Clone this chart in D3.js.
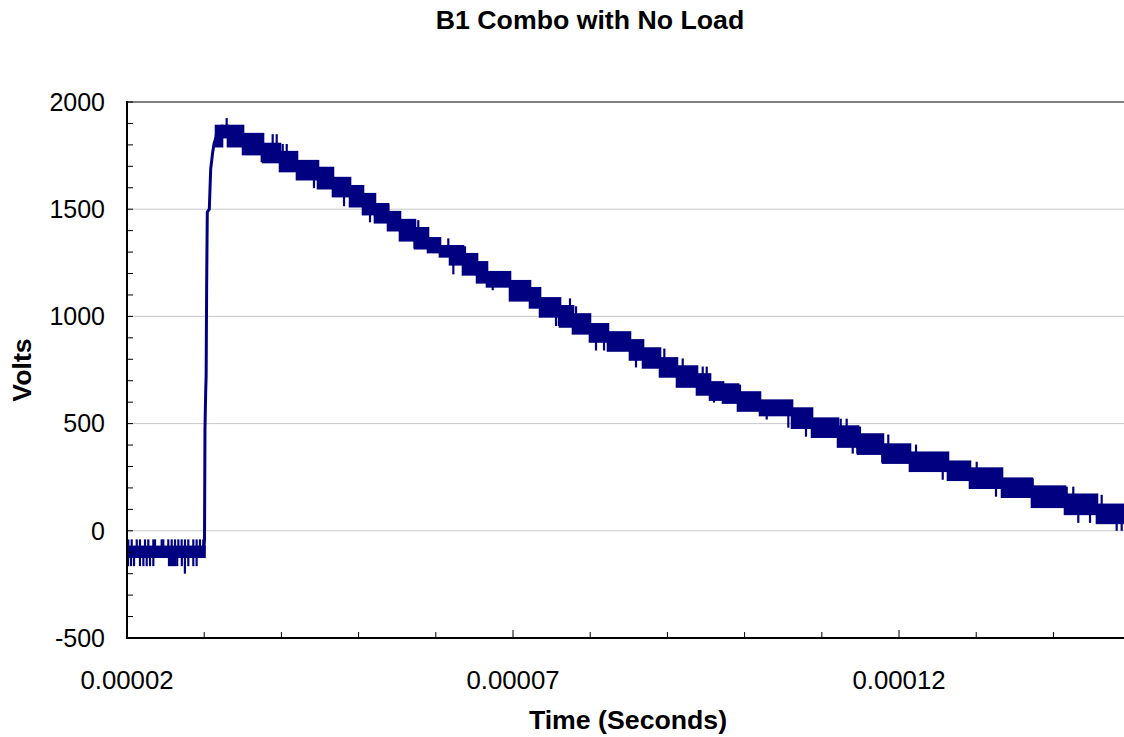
<!DOCTYPE html>
<html>
<head>
<meta charset="utf-8">
<script src="https://cdn.jsdelivr.net/npm/d3@7"></script>
<style>
  html, body { margin: 0; padding: 0; background: #fff; }
  svg { display: block; font-family: "Liberation Sans", Arial, sans-serif; }
</style>
</head>
<body>
<svg id="chart" width="1124" height="737"></svg>
<script>
// ---- Data (time in microseconds, voltage in volts) ----
const titleText = "B1 Combo with No Load";
const xLabel = "Time (Seconds)";
const yLabel = "Volts";

const xMajorTicks = [20, 70, 120];          // µs  -> 0.00002, 0.00007, 0.00012
const xTickLabels = ["0.00002", "0.00007", "0.00012"];
const yMajorTicks = [-500, 0, 500, 1000, 1500, 2000];

// Quantised noise band: start/end time and low/high envelope of each step
const stepStart = [20, 31.53, 32.31, 33.08, 35.03, 37.62, 39.82, 42.02, 44.74, 46.68,
  48.89, 50.57, 52.12, 53.81, 55.36, 57.30, 58.99, 60.54, 61.84, 63.52,
  65.34, 66.63, 69.61, 72.20, 73.50, 76.09, 77.77, 79.97, 82.30, 85.15,
  86.84, 89.04, 91.24, 93.83, 95.52, 97.20, 99.14, 101.99, 106.14, 108.73,
  112.10, 114.69, 117.92, 121.42, 126.34, 129.19, 133.34, 137.22, 141.50, 145.64];
const stepEnd = [30.04, 32.31, 33.08, 35.03, 37.62, 39.82, 42.02, 44.74, 46.68, 48.89,
  50.57, 52.12, 53.81, 55.36, 57.30, 58.99, 60.54, 61.84, 63.52, 65.34,
  66.63, 69.61, 72.20, 73.50, 76.09, 77.77, 79.97, 82.30, 85.15, 86.84,
  89.04, 91.24, 93.83, 95.52, 97.20, 99.14, 101.99, 106.14, 108.73, 112.10,
  114.69, 117.92, 121.42, 126.34, 129.19, 133.34, 137.22, 141.50, 145.64, 149.14];
const stepLow = [-121, 1794, 1836, 1794, 1757, 1720, 1678, 1640, 1598, 1561,
  1514, 1477, 1439, 1402, 1355, 1318, 1300, 1280, 1243, 1196,
  1159, 1140, 1075, 1042, 1000, 953, 921, 883, 841, 799,
  762, 720, 673, 636, 612, 598, 561, 540, 481, 439,
  393, 360, 318, 280, 238, 201, 159, 112, 79, 37];
const stepHigh = [-75, 1888, 1888, 1888, 1850, 1804, 1766, 1724, 1692, 1645,
  1607, 1570, 1523, 1486, 1449, 1411, 1364, 1327, 1327, 1290,
  1252, 1206, 1164, 1131, 1084, 1047, 1009, 963, 925, 888,
  850, 804, 766, 729, 692, 682, 645, 607, 570, 523,
  486, 449, 402, 364, 322, 290, 243, 206, 168, 121];

// Rising edge of the pulse
const riseTime  = [29.91, 30.04, 30.10, 30.19, 30.25, 30.32, 30.40, 30.66, 30.84, 31.10, 31.27, 31.53, 31.70];
const riseVolts = [-103, -42, 472, 645, 720, 1159, 1486, 1500, 1687, 1766, 1804, 1836, 1883];

// Individual noise spikes leaving the band
const spikeTime = [
  20.17, 20.61, 21.26, 21.68, 22.33, 22.76, 23.41, 23.63, 24.49, 24.70, 25.35, 25.79, 26.22, 26.65,
  27.08, 27.51, 27.94, 28.59, 29.02, 29.45, 29.88,
  20.13, 20.52, 20.91, 21.68, 22.12, 22.55, 22.98, 23.41, 25.44, 25.70, 25.96, 26.22, 26.50, 27.10,
  27.50, 27.94, 28.59, 29.02,
  32.91, 37.45, 38.87, 39.39, 40.17, 40.69, 44.22, 48.11, 51.48, 53.85, 57.25, 57.73, 61.62, 62.27,
  63.78, 67.37, 75.57, 75.95, 77.38, 78.16, 80.75, 81.79, 85.93, 89.60, 91.98, 94.57, 95.09, 96.03,
  99.40, 102.86, 105.66, 107.95, 112.45, 113.22, 114.00, 114.60, 114.94, 117.83, 118.61, 122.20,
  125.66, 130.06, 132.56, 137.31, 141.72, 142.57, 143.22, 144.74, 146.25, 148.19, 148.84];
const spikeVolts = [
  -40, -40, -40, -40, -40, -40, -40, -40, -40, -40, -40, -40, -40, -40,
  -40, -40, -40, -40, -40, -40, -40,
  -165, -165, -165, -165, -165, -165, -165, -165, -165, -165, -165, -165, -165, -165,
  -200, -165, -165, -165,
  1925, 1720, 1850, 1850, 1804, 1804, 1598, 1514, 1439, 1523, 1318, 1449, 1364, 1196,
  1327, 1122, 955, 955, 1084, 1047, 841, 841, 762, 850, 804, 766, 766, 598,
  682, 519, 481, 439, 523, 523, 360, 360, 486, 318, 449, 402,
  238, 322, 159, 243, 206, 206, 37, 37, 168, 0, 0];

// ---- Layout ----
const W = 1124, H = 737;
const L = 127, R = 1124, T = 102, B = 638;
const navy = "#000080";

const svg = d3.select("#chart");
const x = d3.scaleLinear().domain([20, 149.14]).range([L, R]);
const y = d3.scaleLinear().domain([-500, 2000]).range([B, T]);

// gridlines
svg.append("g").selectAll("line")
  .data(yMajorTicks.filter(d => d > -500 && d < 2000))
  .join("line")
  .attr("x1", L).attr("x2", R)
  .attr("y1", d => y(d)).attr("y2", d => y(d))
  .attr("stroke", "#c8c8c8").attr("stroke-width", 1);

// top border
svg.append("line").attr("x1", L).attr("x2", R).attr("y1", y(2000)).attr("y2", y(2000))
  .attr("stroke", "#808080").attr("stroke-width", 2);

// plot content, clipped
svg.append("clipPath").attr("id", "clip").append("rect")
  .attr("x", L + 1).attr("y", T - 10).attr("width", R - L).attr("height", B - T + 9);
const plot = svg.append("g").attr("clip-path", "url(#clip)");

const steps = stepStart.map((s, i) => ({ s, e: stepEnd[i], lo: stepLow[i], hi: stepHigh[i] }));
plot.append("g").selectAll("rect").data(steps).join("rect")
  .attr("x", d => x(d.s))
  .attr("width", d => x(d.e) - x(d.s))
  .attr("y", d => y(d.hi))
  .attr("height", d => y(d.lo) - y(d.hi))
  .attr("fill", navy)
  .attr("stroke", navy).attr("stroke-width", 2.6).attr("stroke-linejoin", "miter");

function bandMid(t) {
  let i = d3.bisectRight(stepStart, t) - 1;
  if (i < 0) i = 0;
  return (stepLow[i] + stepHigh[i]) / 2;
}
const spikes = spikeTime.map((t, i) => ({ t, v: spikeVolts[i], m: bandMid(t) }));
plot.append("g").selectAll("line").data(spikes).join("line")
  .attr("x1", d => x(d.t)).attr("x2", d => x(d.t))
  .attr("y1", d => y(d.m)).attr("y2", d => y(d.v))
  .attr("stroke", navy).attr("stroke-width", 2.2);

const rise = riseTime.map((t, i) => [t, riseVolts[i]]);
plot.append("path").datum(rise)
  .attr("d", d3.line().x(d => x(d[0])).y(d => y(d[1])))
  .attr("fill", "none").attr("stroke", navy).attr("stroke-width", 3)
  .attr("stroke-linejoin", "round");

// axes lines
svg.append("line").attr("x1", L).attr("x2", L).attr("y1", T - 1).attr("y2", B + 1)
  .attr("stroke", "#000").attr("stroke-width", 2);
svg.append("line").attr("x1", L - 1).attr("x2", R).attr("y1", B).attr("y2", B)
  .attr("stroke", "#000").attr("stroke-width", 2);

// y ticks (every 100, inward)
svg.append("g").selectAll("line").data(d3.range(-500, 2001, 100)).join("line")
  .attr("x1", L).attr("x2", L + 6)
  .attr("y1", d => y(d)).attr("y2", d => y(d))
  .attr("stroke", "#000").attr("stroke-width", 1);

// x ticks (every 10 µs, inward)
svg.append("g").selectAll("line").data(d3.range(20, 149.1, 10)).join("line")
  .attr("x1", d => x(d)).attr("x2", d => x(d))
  .attr("y1", B).attr("y2", d => xMajorTicks.includes(d) ? B - 8 : B - 6)
  .attr("stroke", "#000").attr("stroke-width", 1);

// y tick labels
svg.append("g").selectAll("text").data(yMajorTicks).join("text")
  .attr("x", 105).attr("y", d => y(d) + 8.8)
  .attr("text-anchor", "end")
  .attr("font-size", 25).attr("fill", "#000")
  .text(d => d);

// x tick labels
svg.append("g").selectAll("text").data(xMajorTicks).join("text")
  .attr("x", d => x(d)).attr("y", 689)
  .attr("text-anchor", "middle")
  .attr("font-size", 25.8).attr("fill", "#000")
  .text((d, i) => xTickLabels[i]);

// title
svg.append("text").attr("x", 590).attr("y", 29)
  .attr("text-anchor", "middle").attr("font-weight", "bold").attr("font-size", 26.7)
  .text(titleText);

// axis titles
svg.append("text").attr("x", 628).attr("y", 729)
  .attr("text-anchor", "middle").attr("font-weight", "bold").attr("font-size", 26.7)
  .text(xLabel);
svg.append("text").attr("transform", "translate(31,370) rotate(-90)")
  .attr("text-anchor", "middle").attr("font-weight", "bold").attr("font-size", 26.7)
  .text(yLabel);
</script>
</body>
</html>
